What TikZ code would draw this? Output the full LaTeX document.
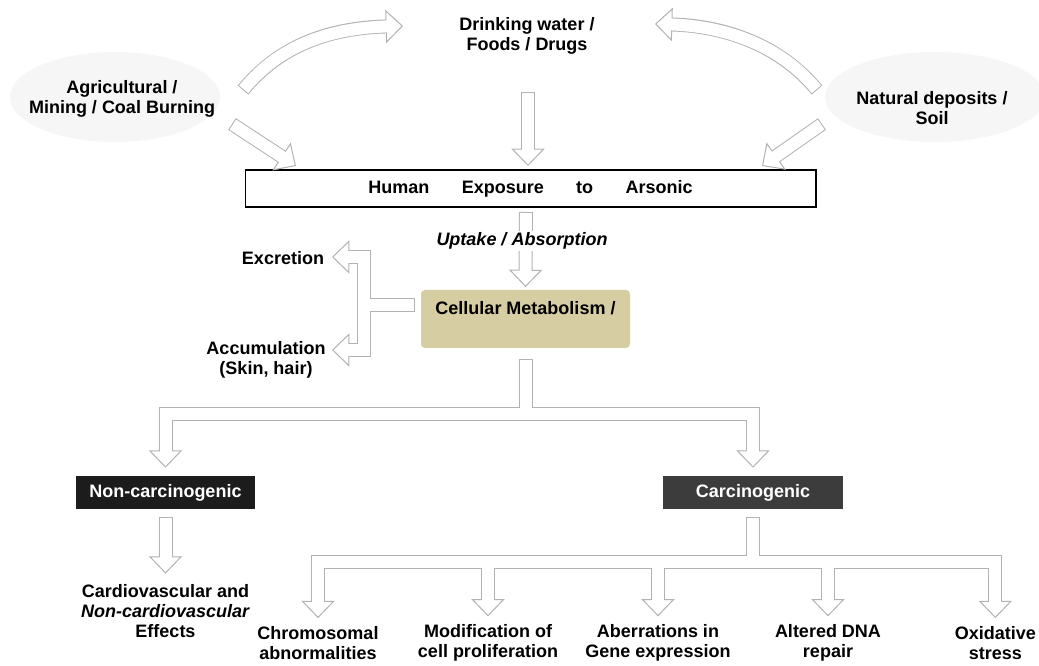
\documentclass[tikz,border=0pt]{standalone}
\usepackage{fontspec}
\setmainfont{Liberation Sans}
\usetikzlibrary{arrows.meta, positioning}
\definecolor{khaki}{RGB}{214,205,162}
\definecolor{soot}{RGB}{28,28,28}
\definecolor{ash}{RGB}{60,60,60}
\tikzset{
  txt/.style={font=\bfseries\fontsize{13.5}{15}\selectfont, align=center, inner sep=3pt},
  pipeout/.style={draw=gray!60, line width=10.5pt,
    -{Triangle[length=13pt, width=25pt, line width=0.75pt, fill=white]}},
  pipein/.style={draw=white, line width=9pt, shorten >=11pt, shorten <=0.75pt},
}

\begin{document}
\begin{tikzpicture}[x=0.75pt, y=-0.75pt, node distance=127.5pt, on grid]
\useasboundingbox (0,0) rectangle (1039,666);
\fill[gray!7] (115,97) ellipse [x radius=105, y radius=45];
\fill[gray!7] (935,97) ellipse [x radius=110, y radius=45];

% sources of arsenic
\node[txt] (water) at (527,36) {Drinking water /\\Foods / Drugs};
\node[txt] (agri) at (122,99) {Agricultural /\\Mining / Coal Burning};
\node[txt] (natural) at (932,108) {Natural deposits /\\Soil};
\node[txt, draw, line width=1pt, minimum width=428pt, minimum height=27.75pt] (expo) at (530.5,188.5)
  {Human\hspace{1.8em}Exposure\hspace{1.8em}to\hspace{1.8em}Arsonic};

% metabolism
\node[font=\bfseries\fontsize{13.5}{15}\selectfont, fill=khaki, rounded corners=3pt, minimum width=156.75pt,
  text height=14.2pt, text depth=21.3pt, inner sep=4pt] (cell) at (525.5,319) {Cellular Metabolism /};
\node[txt] (excr) at (283,258) {Excretion};
\node[txt] (accum) at (266,360) {Accumulation\\(Skin, hair)};

% effects
\node[txt, fill=soot, text=white, minimum width=134pt, minimum height=24.75pt] (noncarc) at (165.5,492.5) {Non-carcinogenic};
\node[txt, fill=ash, text=white, minimum width=135pt, minimum height=24.75pt] (carc) at (753,492.5) {Carcinogenic};
\node[txt, below=89pt of noncarc] (cardio) {Cardiovascular and\\\textit{Non-cardiovascular}\\Effects};
\node[txt] (chromo) at (318,643) {Chromosomal\\abnormalities};
\node[txt, right=of chromo] (modif) {Modification of\\cell proliferation};
\node[txt, right=of modif] (aberr) {Aberrations in\\Gene expression};
\node[txt, right=of aberr] (altered) {Altered DNA\\repair};
\node[txt, right=of altered, xshift=-2pt] (oxid) {Oxidative\\stress};

% free ends of the hollow arrows
\coordinate (agriA) at (243,90);
\coordinate (waterL) at (403,26);
\coordinate (natA) at (817,90);
\coordinate (waterR) at (655,24);
\coordinate (agriB) at (232,124);
\coordinate (expoL) at (296,166);
\coordinate (waterB) at (528,92);
\coordinate (expoM) at (528,166);
\coordinate (natB) at (822,124);
\coordinate (expoR) at (762,166);
\coordinate (upA) at (526,212);
\coordinate (cellL) at (415,305);
\coordinate (brk) at (364,305);
\coordinate (excrTip) at (332,257);
\coordinate (accTip) at (332,350);
\coordinate (cellB) at (526,359);
\coordinate (split) at (526,414);
\coordinate (csplit) at (753,562);

% outlines first, then the white inside
\foreach \pass in {pipeout, pipein} {
  \draw[\pass] (agriA) .. controls (280,45) and (330,28) .. (waterL);
  \draw[\pass] (natA) .. controls (780,45) and (725,26) .. (waterR);
  \draw[\pass] (agriB) -- (expoL);
  \draw[\pass] (waterB) -- (expoM);
  \draw[\pass] (natB) -- (expoR);
  \draw[\pass] (upA) -- ([yshift=2pt]cell.north);
  \draw[\pass] (cellL) -- (brk) |- (excrTip);
  \draw[\pass] (cellL) -- (brk) |- (accTip);
  \draw[\pass] (cellB) -- (split) -| ([yshift=6pt]noncarc.north);
  \draw[\pass] (cellB) -- (split) -| ([yshift=6pt]carc.north);
  \draw[\pass] ([yshift=-6pt]noncarc.south) -- ([yshift=5pt]cardio.north);
  \foreach \fx in {chromo, modif, aberr, altered, oxid}
    \draw[\pass] ([yshift=-6pt]carc.south) -- (csplit) -| ([yshift=3pt]\fx.north);
}

\node[txt, fill=white, inner sep=1pt] (uptake) at (522,241) {\textit{Uptake / Absorption}};
\end{tikzpicture}
\end{document}
